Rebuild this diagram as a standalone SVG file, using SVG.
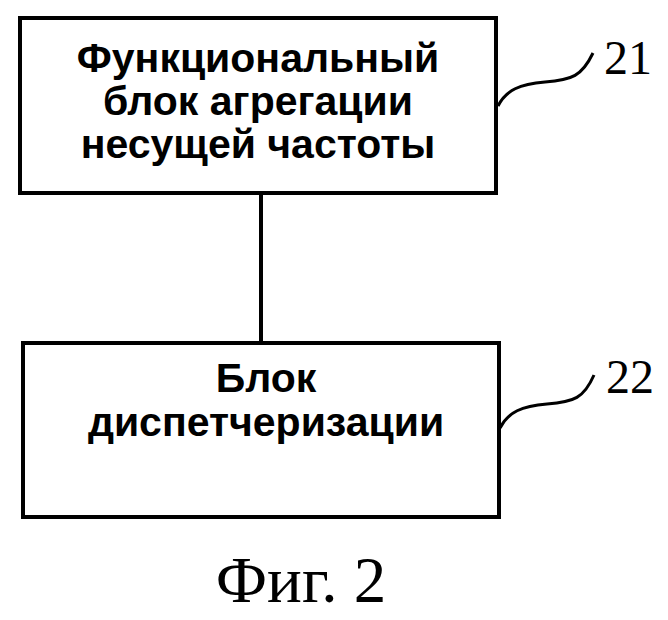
<svg xmlns="http://www.w3.org/2000/svg" width="668" height="620" viewBox="0 0 668 620">
  <style>
    .box { fill: #ffffff; stroke: #000000; stroke-width: 4; }
    .conn { fill: none; stroke: #000000; stroke-width: 4; }
    .lead { fill: none; stroke: #000000; stroke-width: 3; }
    .lbl { font-family: "Liberation Sans", Arial, sans-serif; font-weight: bold; font-size: 41px; fill: #000000; text-anchor: middle; }
    .ref { font-family: "Liberation Serif", "Times New Roman", serif; font-size: 48px; fill: #000000; }
    .cap { font-family: "Liberation Serif", "Times New Roman", serif; font-size: 65px; fill: #000000; text-anchor: middle; }
  </style>
  <rect width="668" height="620" fill="#ffffff"/>
  <g id="connectors">
    <line class="conn" x1="261" y1="193" x2="261" y2="343"/>
  </g>
  <g id="node21">
    <rect class="box" x="20" y="18" width="476" height="175"/>
    <text class="lbl" x="258" y="72">Функциональный</text>
    <text class="lbl" x="258" y="115">блок агрегации</text>
    <text class="lbl" x="258" y="158">несущей частоты</text>
    <path class="lead" d="M498,106 C506,90 520,84 545,82 C572,80 582,76 593,53"/>
    <text class="ref" x="604" y="74">21</text>
  </g>
  <g id="node22">
    <rect class="box" x="23" y="343" width="476" height="174"/>
    <text class="lbl" x="266" y="392">Блок</text>
    <text class="lbl" x="266" y="436">диспетчеризации</text>
    <path class="lead" d="M500,428 C508,412 522,406 547,404 C574,402 584,398 594,375"/>
    <text class="ref" x="606" y="393">22</text>
  </g>
  <g id="caption">
    <text class="cap" x="301" y="602">Фиг. 2</text>
  </g>
</svg>
